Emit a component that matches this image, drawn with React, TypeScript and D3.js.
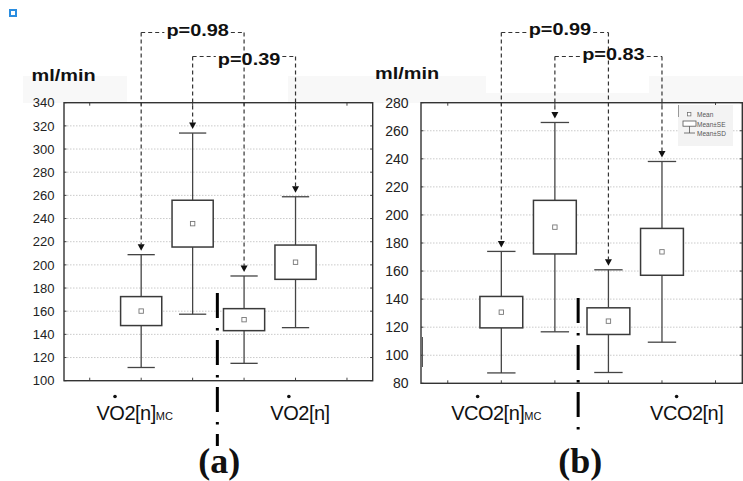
import React, { useEffect, useRef } from "react";
import * as d3 from "d3";

const W = 743;
const H = 481;

// Panel (a): oxygen uptake, ml/min — mean, standard error and standard deviation per group
const vo2Groups = ["VO2[n]MC-1", "VO2[n]MC-2", "VO2[n]-1", "VO2[n]-2"];
const vo2Mean = [160.1, 235.6, 152.7, 202.3];
const vo2SE = [12.5, 20.2, 9.5, 14.8];
const vo2SD = [48.7, 78.2, 37.7, 56.5];
const vo2Ticks = [100, 120, 140, 160, 180, 200, 220, 240, 260, 280, 300, 320, 340];
const vo2PValues = ["p=0.98", "p=0.39"];

// Panel (b): carbon dioxide output, ml/min
const vco2Groups = ["VCO2[n]MC-1", "VCO2[n]MC-2", "VCO2[n]-1", "VCO2[n]-2"];
const vco2Mean = [130.7, 191.3, 124.3, 173.7];
const vco2SE = [11.2, 19.1, 9.5, 16.7];
const vco2SD = [43.3, 74.6, 36.6, 64.4];
const vco2Ticks = [80, 100, 120, 140, 160, 180, 200, 220, 240, 260, 280];
const vco2PValues = ["p=0.99", "p=0.83"];

// Compared pairs (index into the groups) for each p-value bracket
const comparedPairs: [number, number][] = [
  [0, 2],
  [1, 3],
];

const SANS = "'Liberation Sans', Arial, sans-serif";
const SERIF = "'Liberation Serif', 'Times New Roman', serif";

type Sel = d3.Selection<SVGGElement, unknown, null, undefined>;

interface PanelSpec {
  groups: string[];
  mean: number[];
  se: number[];
  sd: number[];
  ticks: number[];
  pValues: string[];
  x0: number;
  x1: number;
  y0: number;
  y1: number;
  tickFont: number;
  tickLabelX: number;
  unitX: number;
  unitY: number;
  pBaselines: number[];
  sepShift: number;
  sepTop: number;
  sepBottom: number;
  tagText: string;
  labelMain: [string, string];
  labelCenters: [number, number];
  dotOffset: number;
  legend: boolean;
}

function drawPanel(g: Sel, p: PanelSpec) {
  const domain = d3.extent(p.ticks) as [number, number];
  const y = d3.scaleLinear().domain(domain).range([p.y1, p.y0]);
  const slots = ["", ...p.groups, " "];
  const x = d3.scaleBand<string>().domain(slots).range([p.x0, p.x1]);
  const bw = x.bandwidth();
  const cx = (i: number) => (x(p.groups[i]) as number) + bw / 2;
  const boxW = bw * 0.8;
  const capW = bw * 0.53;

  // plot area
  g.append("rect")
    .attr("x", p.x0)
    .attr("y", p.y0)
    .attr("width", p.x1 - p.x0)
    .attr("height", p.y1 - p.y0)
    .attr("fill", "#fff");

  // dotted horizontal grid
  g.append("g")
    .selectAll("line")
    .data(p.ticks.filter((t) => t > domain[0] && t < domain[1]))
    .join("line")
    .attr("x1", p.x0)
    .attr("x2", p.x1)
    .attr("y1", (d) => y(d))
    .attr("y2", (d) => y(d))
    .attr("stroke", "#bdbdbd")
    .attr("stroke-width", 0.8)
    .attr("stroke-dasharray", "1.5,1.5");

  // inward ticks on all four sides
  const tickG = g.append("g").attr("stroke", "#444").attr("stroke-width", 1);
  slots.forEach((s) => {
    const tx = (x(s) as number) + bw / 2;
    tickG.append("line").attr("x1", tx).attr("x2", tx).attr("y1", p.y0).attr("y2", p.y0 + 3);
    tickG.append("line").attr("x1", tx).attr("x2", tx).attr("y1", p.y1).attr("y2", p.y1 - 3);
  });
  p.ticks.forEach((t) => {
    tickG.append("line").attr("x1", p.x0).attr("x2", p.x0 + 2.5).attr("y1", y(t)).attr("y2", y(t));
    tickG.append("line").attr("x1", p.x1).attr("x2", p.x1 - 2.5).attr("y1", y(t)).attr("y2", y(t));
  });

  // frame
  g.append("rect")
    .attr("x", p.x0)
    .attr("y", p.y0)
    .attr("width", p.x1 - p.x0)
    .attr("height", p.y1 - p.y0)
    .attr("fill", "none")
    .attr("stroke", "#333")
    .attr("stroke-width", 1.4);

  // y tick labels
  g.append("g")
    .selectAll("text")
    .data(p.ticks)
    .join("text")
    .attr("x", p.tickLabelX)
    .attr("y", (d) => y(d))
    .attr("dy", "0.36em")
    .attr("text-anchor", "end")
    .attr("font-family", SANS)
    .attr("font-size", p.tickFont)
    .attr("fill", "#222")
    .text((d) => d);

  // unit label
  g.append("text")
    .attr("transform", `translate(${p.unitX},${p.unitY}) scale(1.17,1)`)
    .attr("font-family", SANS)
    .attr("font-weight", "bold")
    .attr("font-size", 17)
    .attr("fill", "#111")
    .text("ml/min");

  // boxes: mean ± SE box, mean ± SD whiskers, mean marker
  const boxG = g.append("g");
  p.mean.forEach((m, i) => {
    const c = cx(i);
    const se = p.se[i];
    const sd = p.sd[i];
    const wl = boxG.append("g").attr("stroke", "#444").attr("stroke-width", 1.3);
    wl.append("line").attr("x1", c).attr("x2", c).attr("y1", y(m + sd)).attr("y2", y(m + se));
    wl.append("line").attr("x1", c).attr("x2", c).attr("y1", y(m - se)).attr("y2", y(m - sd));
    wl.append("line").attr("x1", c - capW / 2).attr("x2", c + capW / 2).attr("y1", y(m + sd)).attr("y2", y(m + sd));
    wl.append("line").attr("x1", c - capW / 2).attr("x2", c + capW / 2).attr("y1", y(m - sd)).attr("y2", y(m - sd));
    boxG.append("rect")
      .attr("x", c - boxW / 2)
      .attr("y", y(m + se))
      .attr("width", boxW)
      .attr("height", y(m - se) - y(m + se))
      .attr("fill", "#fff")
      .attr("stroke", "#3a3a3a")
      .attr("stroke-width", 1.5);
    boxG.append("rect")
      .attr("x", c - 2.2)
      .attr("y", y(m) - 2.2)
      .attr("width", 4.4)
      .attr("height", 4.4)
      .attr("fill", "#fff")
      .attr("stroke", "#777")
      .attr("stroke-width", 0.9);
  });

  // p-value brackets with dashed arrows down to the whisker tops
  const bracketY = [32.5, 56.5];
  const dashed = { stroke: "#333", width: 1.2, dash: "4,3" };
  comparedPairs.forEach(([a, b], k) => {
    const by = bracketY[k];
    const xa = cx(a);
    const xb = cx(b);
    const mid = (xa + xb) / 2 + 5;
    const label = g.append("text")
      .attr("transform", `translate(${mid},${p.pBaselines[k]}) scale(1.17,1)`)
      .attr("text-anchor", "middle")
      .attr("font-family", SANS)
      .attr("font-weight", "bold")
      .attr("font-size", 17)
      .attr("fill", "#111")
      .text(p.pValues[k]);
    const tw = ((label.node() as SVGTextElement).getComputedTextLength() || 55) * 1.17;
    const segs: [number, number, number, number][] = [
      [xa, by, mid - tw / 2 - 2, by],
      [mid + tw / 2 + 2, by, xb, by],
    ];
    [a, b].forEach((i) => {
      const tip = y(p.mean[i] + p.sd[i]) - 4;
      const c = cx(i);
      segs.push([c, by, c, tip - 6]);
      g.append("path")
        .attr("d", `M${c - 3.5},${tip - 6.5}L${c + 3.5},${tip - 6.5}L${c},${tip}Z`)
        .attr("fill", "#111");
    });
    segs.forEach(([x1, y1, x2, y2]) => {
      g.append("line")
        .attr("x1", x1)
        .attr("y1", y1)
        .attr("x2", x2)
        .attr("y2", y2)
        .attr("stroke", dashed.stroke)
        .attr("stroke-width", dashed.width)
        .attr("stroke-dasharray", dashed.dash);
    });
  });

  // dash-dot separator between the two groups
  const sx = (cx(1) + cx(2)) / 2 + p.sepShift;
  g.append("line")
    .attr("x1", sx)
    .attr("x2", sx)
    .attr("y1", p.sepTop)
    .attr("y2", p.sepBottom)
    .attr("stroke", "#000")
    .attr("stroke-width", 3)
    .attr("stroke-dasharray", "25,10,2.5,9.5");

  // group labels under the axis (V with an overdot)
  p.labelMain.forEach((txt, k) => {
    const t = g.append("text")
      .attr("x", p.labelCenters[k])
      .attr("y", 420)
      .attr("text-anchor", "middle")
      .attr("font-family", SANS)
      .attr("font-size", 20)
      .attr("letter-spacing", "-0.5")
      .attr("fill", "#111");
    t.append("tspan").text(txt);
    if (k === 0) t.append("tspan").attr("font-size", 11).attr("letter-spacing", "0").text("MC");
    const bb = (t.node() as SVGTextElement).getBBox();
    g.append("circle")
      .attr("cx", bb.x + p.dotOffset)
      .attr("cy", 396.5)
      .attr("r", 1.8)
      .attr("fill", "#111");
  });

  // panel tag
  g.append("text")
    .attr("x", sx + 2)
    .attr("y", 473)
    .attr("text-anchor", "middle")
    .attr("font-family", SERIF)
    .attr("font-weight", "bold")
    .attr("font-size", 36)
    .attr("fill", "#111")
    .text(p.tagText);

  if (p.legend) {
    const lg = g.append("g");
    lg.append("rect").attr("x", 678).attr("y", 105).attr("width", 55).attr("height", 41).attr("fill", "#f3f3f3");
    lg.append("line").attr("x1", 678.5).attr("x2", 678.5).attr("y1", 105).attr("y2", 117).attr("stroke", "#999");
    lg.append("rect").attr("x", 687.5).attr("y", 112.5).attr("width", 3.4).attr("height", 3.4).attr("fill", "#fff").attr("stroke", "#666").attr("stroke-width", 0.7);
    lg.append("rect").attr("x", 683).attr("y", 121).attr("width", 13).attr("height", 5.2).attr("fill", "#fff").attr("stroke", "#555").attr("stroke-width", 0.8);
    lg.append("line").attr("x1", 689.5).attr("x2", 689.5).attr("y1", 126.2).attr("y2", 133).attr("stroke", "#555").attr("stroke-width", 0.8);
    lg.append("line").attr("x1", 684).attr("x2", 695).attr("y1", 133).attr("y2", 133).attr("stroke", "#555").attr("stroke-width", 0.8);
    const items = ["Mean", "Mean±SE", "Mean±SD"];
    lg.selectAll("text.leg")
      .data(items)
      .join("text")
      .attr("class", "leg")
      .attr("x", 697)
      .attr("y", (_d, i) => 117 + i * 9.6)
      .attr("font-family", SANS)
      .attr("font-size", 6.5)
      .attr("fill", "#555")
      .text((d) => d);
  }
}

export default function App() {
  const ref = useRef<SVGSVGElement>(null);

  useEffect(() => {
    const svg = d3.select(ref.current as SVGSVGElement);
    svg.selectAll("*").remove();
    const root = svg.append("g") as unknown as Sel;

    root.append("rect").attr("width", W).attr("height", H).attr("fill", "#fff");

    // faint pasted-in background strips above the plot frames
    const bg = root.append("g").attr("fill", "#f8f8f8");
    bg.append("rect").attr("x", 23).attr("y", 76).attr("width", 104).attr("height", 27);
    bg.append("rect").attr("x", 288).attr("y", 76).attr("width", 84).attr("height", 27);
    bg.append("rect").attr("x", 372).attr("y", 76).attr("width", 114).attr("height", 27);
    bg.append("rect").attr("x", 649).attr("y", 76).attr("width", 94).attr("height", 27);
    bg.append("rect").attr("x", 486).attr("y", 93).attr("width", 163).attr("height", 10);

    // small marker in the top-left corner
    root.append("rect")
      .attr("x", 10)
      .attr("y", 10)
      .attr("width", 6)
      .attr("height", 6)
      .attr("fill", "#fff")
      .attr("stroke", "#2a8de0")
      .attr("stroke-width", 2);

    drawPanel(root.append("g") as unknown as Sel, {
      groups: vo2Groups,
      mean: vo2Mean,
      se: vo2SE,
      sd: vo2SD,
      ticks: vo2Ticks,
      pValues: vo2PValues,
      x0: 64,
      x1: 372.7,
      y0: 102.7,
      y1: 380.7,
      tickFont: 13,
      tickLabelX: 54.5,
      unitX: 31.5,
      unitY: 81,
      pBaselines: [36, 64.5],
      sepShift: -1,
      sepTop: 293,
      sepBottom: 446,
      tagText: "(a)",
      labelMain: ["VO2[n]", "VO2[n]"],
      labelCenters: [134.7, 300],
      dotOffset: 18.5,
      legend: false,
    });

    drawPanel(root.append("g") as unknown as Sel, {
      groups: vco2Groups,
      mean: vco2Mean,
      se: vco2SE,
      sd: vco2SD,
      ticks: vco2Ticks,
      pValues: vco2PValues,
      x0: 421,
      x1: 742.3,
      y0: 102.7,
      y1: 383.3,
      tickFont: 14,
      tickLabelX: 408.5,
      unitX: 375,
      unitY: 79,
      pBaselines: [35, 60],
      sepShift: -3.5,
      sepTop: 298,
      sepBottom: 432,
      tagText: "(b)",
      labelMain: ["VCO2[n]", "VCO2[n]"],
      labelCenters: [496.3, 686.7],
      dotOffset: 26.5,
      legend: true,
    });

    // short doubled edge beside the left side of frame (b)
    root.append("line")
      .attr("x1", 422.5)
      .attr("x2", 422.5)
      .attr("y1", 337)
      .attr("y2", 367)
      .attr("stroke", "#555")
      .attr("stroke-width", 1);
  }, []);

  return (
    <svg
      ref={ref}
      width={W}
      height={H}
      style={{ position: "absolute", left: 0, top: 0, display: "block" }}
    />
  );
}
